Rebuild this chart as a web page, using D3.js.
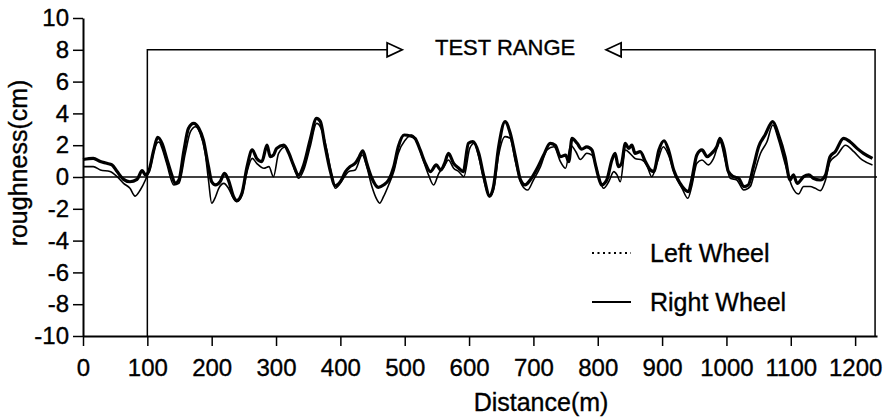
<!DOCTYPE html>
<html>
<head>
<meta charset="utf-8">
<script src="https://cdn.jsdelivr.net/npm/d3@7"></script>
<style>
  body { margin: 0; background: #fff; }
  text { font-family: "Liberation Sans", Arial, sans-serif; fill: #000; stroke: #000; stroke-width: 0.35px; }
</style>
</head>
<body>
<script>
// Right wheel (thick line)
var rightDist = [0,16,27,37,45,53,63,73,84,92,97,102,110,116,123,130,138,143,149,157,164,172,180,187,195,200,206,213,220,226,234,239,247,255,263,270,278,286,291,296,301,312,320,327,335,343,353,363,369,376,384,392,400,408,415,423,428,435,441,449,459,467,475,483,490,499,509,516,524,532,540,549,556,562,568,576,584,591,599,606,615,623,632,638,646,656,664,672,680,687,695,706,716,726,734,742,750,755,760,768,775,783,791,796,801,806,814,822,827,832,837,843,848,853,858,866,874,882,887,895,903,910,918,928,936,941,946,954,962,970,977,985,990,996,1003,1011,1019,1027,1034,1042,1050,1060,1072,1081,1091,1099,1104,1110,1120,1128,1135,1146,1154,1161,1169,1182,1192,1203,1213,1227]
var rightVal = [1.1,1.17,0.97,0.86,0.76,0.34,-0.15,-0.3,-0.15,0.4,0.13,0.34,1.7,2.5,2.1,1.17,0.13,-0.4,-0.19,1.7,3.06,3.37,3.06,2.33,0.65,-0.3,-0.5,-0.3,0.23,-0.19,-1.24,-1.49,-1.03,0.65,1.7,1.17,0.97,2.0,1.28,1.38,1.8,2.0,1.49,0.76,0.13,0.76,2.33,3.69,3.48,2.0,0.44,-0.55,-0.3,0.34,0.65,0.86,1.17,1.65,0.86,-0.08,-0.65,-0.5,-0.19,0.65,1.9,2.64,2.58,2.43,1.7,0.86,0.34,0.76,0.44,0.86,1.49,0.86,0.55,0.34,2.12,2.22,1.49,0.02,-1.2,-0.6,1.9,3.48,2.75,1.28,-0.19,-0.5,-0.19,0.55,1.38,2.12,2.0,1.28,1.38,0.97,2.43,2.12,1.75,1.9,1.7,0.86,0.02,-0.5,-0.19,1.07,1.49,0.65,0.86,2.12,1.8,2.0,1.49,1.59,0.97,0.44,0.34,1.7,2.28,1.7,0.44,-0.4,-0.82,-0.92,-0.19,1.38,1.7,1.28,1.49,1.9,2.43,1.8,0.34,0.02,-0.08,-0.6,-0.5,0.65,1.9,2.64,3.48,2.64,1.28,-0.19,0.13,-0.4,0.02,0.13,-0.08,-0.19,0.13,1.28,1.59,2.43,2.22,1.8,1.49,1.17]

// Left wheel (thin line)
var leftDist = [0,16,27,42,53,63,73,81,89,97,105,112,118,123,130,141,149,159,167,175,182,190,195,200,206,211,219,226,234,239,247,255,263,270,281,289,296,304,315,322,330,335,343,353,363,370,379,387,392,403,413,423,434,441,449,457,461,467,475,483,490,501,511,519,527,537,545,553,561,568,576,584,592,601,608,615,623,632,638,646,656,664,672,682,691,700,711,721,732,742,750,758,766,773,783,791,799,804,809,817,825,830,835,843,850,858,869,876,884,892,902,910,920,931,940,946,954,962,972,980,990,998,1006,1016,1027,1037,1044,1053,1063,1072,1081,1091,1102,1112,1120,1130,1138,1146,1154,1161,1172,1185,1198,1211,1227]
var leftVal = [0.65,0.65,0.44,0.34,0.02,-0.4,-0.71,-1.2,-0.82,-0.19,0.65,1.9,2.2,1.8,0.86,-0.5,-0.4,1.49,2.85,3.16,2.75,1.49,-0.19,-1.65,-1.24,-0.71,-0.4,-0.71,-1.34,-1.55,-1.13,0.34,1.17,0.86,0.55,0.65,0.02,1.49,1.9,1.28,0.34,-0.08,0.44,1.9,3.37,3.06,1.7,0.02,-0.71,-0.19,0.34,0.44,1.38,0.65,-0.6,-1.44,-1.65,-1.24,-0.5,0.34,1.49,2.33,2.64,2.22,1.28,0.13,-0.5,0.23,0.65,1.07,0.55,0.34,0.02,1.8,2.12,1.28,-0.19,-1.24,-0.82,1.38,2.54,2.43,0.97,-0.5,-0.82,-0.19,0.65,1.7,1.9,0.97,0.55,2.0,1.59,1.1,1.49,1.38,0.44,-0.3,-0.71,-0.3,0.34,0.13,-0.3,1.7,1.49,1.17,1.07,0.76,0.02,0.86,1.9,1.38,0.13,-0.71,-1.34,-0.6,0.86,1.07,0.76,1.17,2.22,1.07,-0.08,-0.19,-0.82,-0.6,0.34,1.49,2.22,3.27,2.33,0.86,-0.6,-1.07,-0.6,-0.6,-0.71,-0.86,-0.19,0.97,1.38,2.0,1.59,1.07,0.76]

// Ticks
var xTicks = [0,100,200,300,400,500,600,700,800,900,1000,1100,1200]
var yTicks = [10,8,6,4,2,0,-2,-4,-6,-8,-10]

// Test range bracket (distance) and arrow tips
var rangeStart = 100
var rangeEnd = 1231
var rangeTop = 8
var arrowRightTip = 496
var arrowLeftTip = 813
var rangeLabelX = 656

var width = 886
var height = 418
var margin = { top: 18, bottom: 82, left: 83, right: 9 }

var x = d3.scaleLinear()
  .domain([0, 1234])
  .range([margin.left, width - margin.right])

var y = d3.scaleLinear()
  .domain([-10, 10])
  .range([height - margin.bottom, margin.top])

var svg = d3.select("body").append("svg")
  .attr("width", width)
  .attr("height", height)

// bracket lines of the test range
var bracket = [[rangeStart, -10], [rangeStart, rangeTop], [arrowRightTip - 23, rangeTop]]
svg.append("path")
  .attr("d", d3.line().x(d => x(d[0])).y(d => y(d[1]))(bracket))
  .attr("fill", "none").attr("stroke", "#000").attr("stroke-width", 1.5)

var bracket2 = [[arrowLeftTip + 23, rangeTop], [rangeEnd, rangeTop], [rangeEnd, -10]]
svg.append("path")
  .attr("d", d3.line().x(d => x(d[0])).y(d => y(d[1]))(bracket2))
  .attr("fill", "none").attr("stroke", "#000").attr("stroke-width", 1.5)

// open arrowheads
function arrowHead(tip, dir) {
  var tx = x(tip), ty = y(rangeTop)
  var bx = tx - dir * 15
  return "M" + tx + "," + ty + "L" + bx + "," + (ty - 7) + "L" + bx + "," + (ty + 7) + "Z"
}
svg.append("path").attr("d", arrowHead(arrowRightTip, 1))
  .attr("fill", "#fff").attr("stroke", "#000").attr("stroke-width", 1.8)
svg.append("path").attr("d", arrowHead(arrowLeftTip, -1))
  .attr("fill", "#fff").attr("stroke", "#000").attr("stroke-width", 1.8)

svg.append("text")
  .attr("x", x(rangeLabelX))
  .attr("y", 55)
  .attr("text-anchor", "middle")
  .style("font-size", "22px")
  .text("TEST RANGE")

// zero line
svg.append("line")
  .attr("x1", x(0)).attr("x2", x(1234))
  .attr("y1", y(0)).attr("y2", y(0))
  .attr("stroke", "#000").attr("stroke-width", 1.5)

// data lines
var line = d3.line()
  .x(d => x(d[0]))
  .y(d => y(d[1]))
  .curve(d3.curveMonotoneX)

var leftData = d3.zip(leftDist, leftVal)
var rightData = d3.zip(rightDist, rightVal)

svg.append("path")
  .datum(leftData)
  .attr("d", line)
  .attr("fill", "none").attr("stroke", "#000").attr("stroke-width", 1.6)

svg.append("path")
  .datum(rightData)
  .attr("d", line)
  .attr("fill", "none").attr("stroke", "#000").attr("stroke-width", 3.2)

// axes
var ejeX = d3.axisBottom(x).tickValues(xTicks).tickFormat(d => String(d))
  .tickSize(10).tickSizeOuter(0).tickPadding(13)
var gx = svg.append("g")
  .attr("transform", "translate(0," + (height - margin.bottom) + ")")
  .call(ejeX)
gx.selectAll("text").style("font-size", "24px")
gx.select(".domain").attr("stroke-width", 2)
gx.selectAll(".tick line").attr("stroke-width", 1.5)

var ejeY = d3.axisLeft(y).tickValues(yTicks).tickFormat(d => String(d))
  .tickSize(10).tickSizeOuter(0).tickPadding(4)
var gy = svg.append("g")
  .attr("transform", "translate(" + margin.left + ",0)")
  .call(ejeY)
gy.selectAll("text").style("font-size", "24px")
gy.select(".domain").attr("stroke-width", 2)
gy.selectAll(".tick line").attr("stroke-width", 1.5)

// axis titles
svg.append("text")
  .attr("x", 541)
  .attr("y", 411)
  .attr("text-anchor", "middle")
  .style("font-size", "25px")
  .text("Distance(m)")

svg.append("text")
  .attr("transform", "translate(27,163) rotate(-90)")
  .attr("text-anchor", "middle")
  .style("font-size", "25px")
  .text("roughness(cm)")

// legend
var legend = [
  { name: "Left Wheel", dash: "2,3.5", y: 253 },
  { name: "Right Wheel", dash: null, y: 302 }
]
var lg = svg.append("g")
lg.selectAll("line").data(legend).enter().append("line")
  .attr("x1", 592).attr("x2", 631)
  .attr("y1", d => d.y).attr("y2", d => d.y)
  .attr("stroke", "#000")
  .attr("stroke-width", d => d.dash ? 2 : 1.8)
  .attr("stroke-dasharray", d => d.dash)
lg.selectAll("text").data(legend).enter().append("text")
  .attr("x", 650)
  .attr("y", d => d.y + 9)
  .style("font-size", "25px")
  .text(d => d.name)
</script>
</body>
</html>
